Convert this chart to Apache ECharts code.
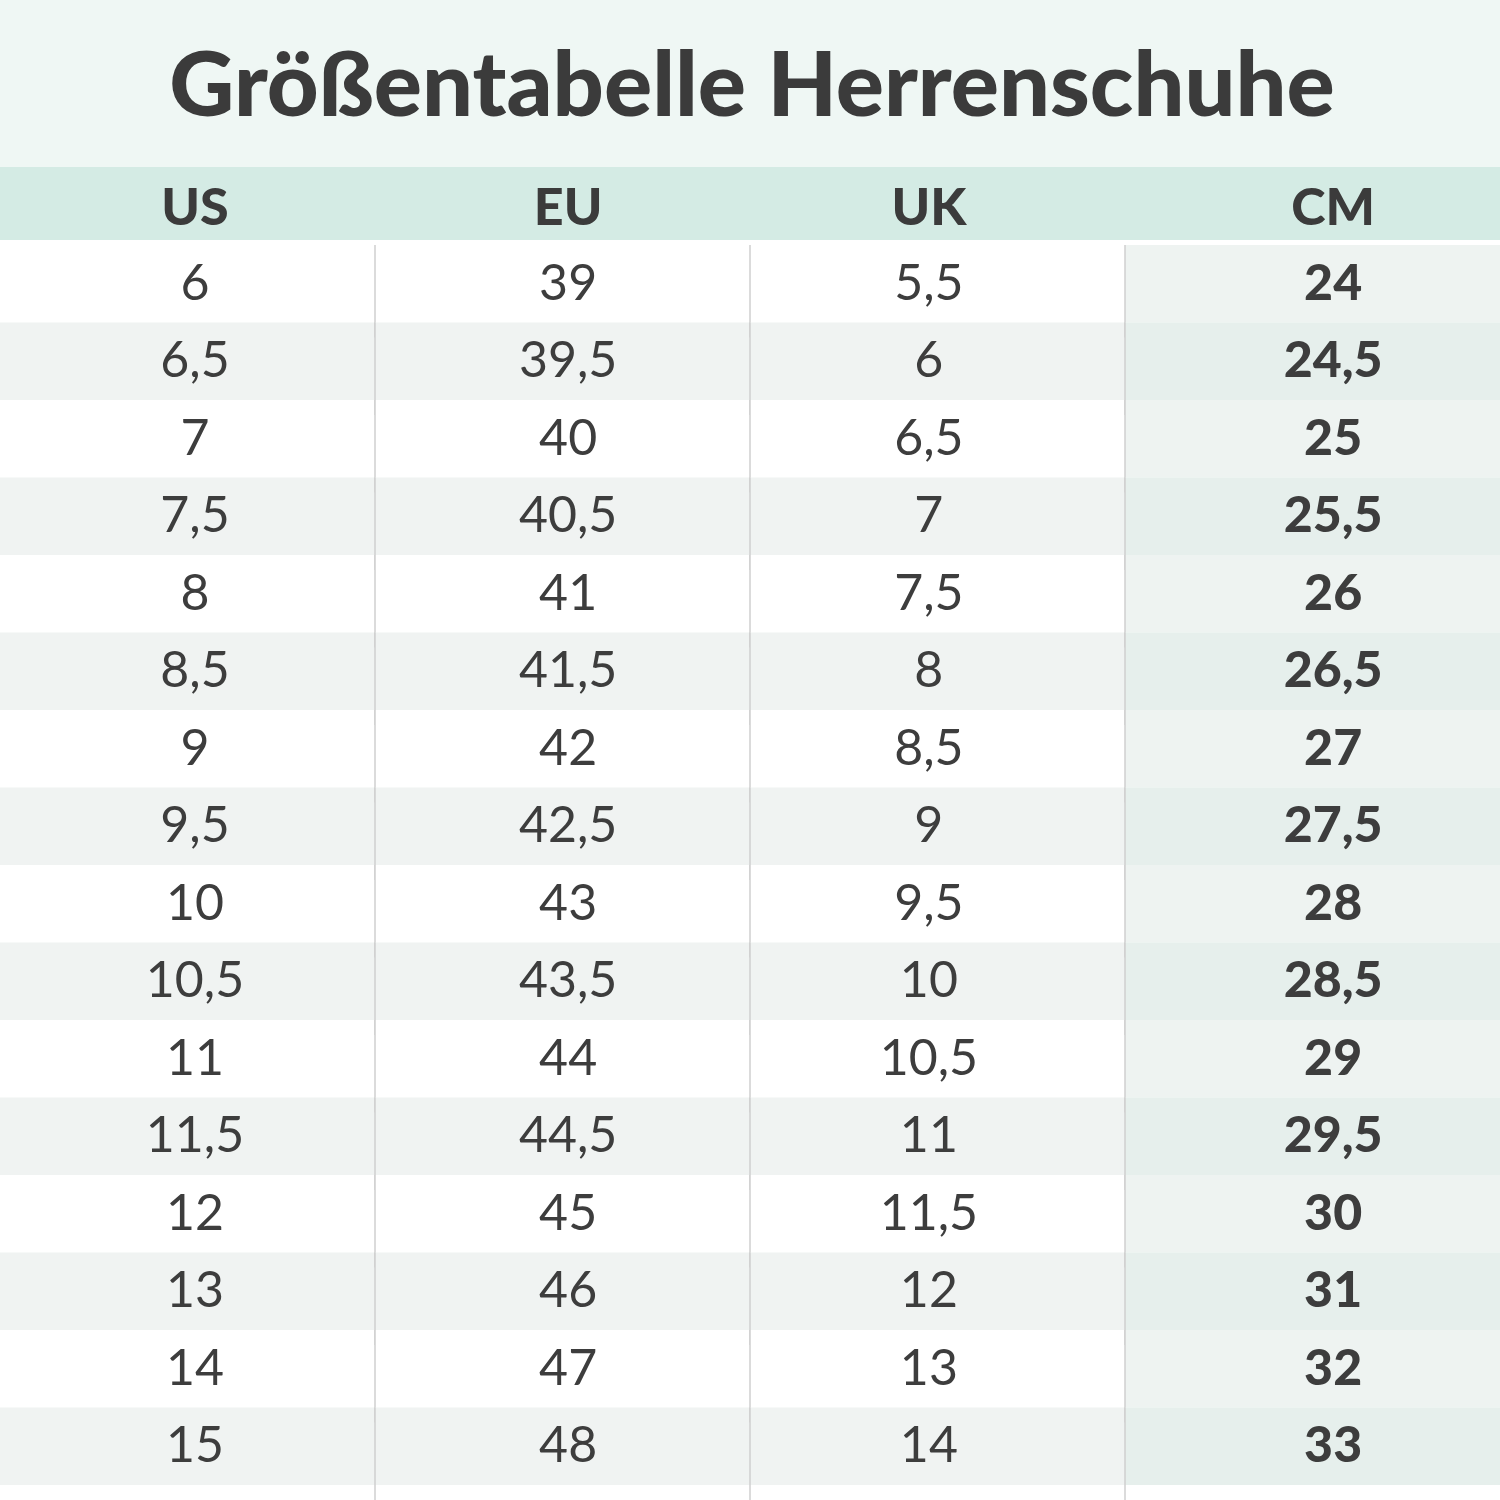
<!DOCTYPE html>
<html><head><meta charset="utf-8">
<script src="https://cdn.jsdelivr.net/npm/echarts@6/dist/echarts.min.js"></script>
<style>html,body{margin:0;padding:0;background:#fff}#c{width:1500px;height:1500px}</style>
</head><body><div id="c"></div>
<script>
const title = 'Größentabelle Herrenschuhe';
const headers = ['US','EU','UK','CM'];
const us = ['6','6,5','7','7,5','8','8,5','9','9,5','10','10,5','11','11,5','12','13','14','15'];
const eu = ['39','39,5','40','40,5','41','41,5','42','42,5','43','43,5','44','44,5','45','46','47','48'];
const uk = ['5,5','6','6,5','7','7,5','8','8,5','9','9,5','10','10,5','11','11,5','12','13','14'];
const cm = ['24','24,5','25','25,5','26','26,5','27','27,5','28','28,5','29','29,5','30','31','32','33'];
const cols = [us, eu, uk, cm];
const textX = [0.52, 1.515, 2.477, 3.555];
const data = [];
cols.forEach((c, ci) => c.forEach((v, ri) => data.push([ci, ri])));
const chart = echarts.init(document.getElementById('c'));
const font = 'Lato, "Noto Sans", sans-serif';
chart.setOption({
  animation: false,
  graphic: [
    {type:'rect', shape:{x:0,y:0,width:1500,height:167}, style:{fill:'#eff7f4'}},
    {type:'rect', shape:{x:0,y:167,width:1500,height:73}, style:{fill:'#d4ebe4'}},
    {type:'text', x:752, y:87, style:{text:title, fill:'#3b3b3b', font:'900 90px '+font, align:'center', verticalAlign:'middle'}},
    ...headers.map((h,i)=>({type:'text', x:textX[i]*375, y:208, style:{text:h, fill:'#3b3b3b', font:'900 52px '+font, align:'center', verticalAlign:'middle'}}))
  ],
  grid: {left:0, right:0, top:245, bottom:15},
  xAxis: {type:'value', min:0, max:4, show:false},
  yAxis: {type:'value', min:0, max:16, inverse:true, show:false},
  series: [{
    type:'custom',
    data: data,
    renderItem: function(params, api){
      const ci = api.value(0), ri = api.value(1);
      const p0 = api.coord([ci, ri]), p1 = api.coord([ci+1, ri+1]);
      const even = ri % 2 === 1;
      let fill = even ? '#f0f3f2' : '#ffffff';
      if (ci === 3) fill = even ? '#e6efec' : '#eef3f1';
      const tc = api.coord([textX[ci], ri + 0.5]);
      const children = [
        {type:'rect', shape:{x:p0[0], y:p0[1], width:p1[0]-p0[0], height:p1[1]-p0[1]}, style:{fill:fill}},
        {type:'text', x:tc[0], y:tc[1], style:{text:cols[ci][ri], fill:'#3d3d3d', font:(ci===3?'900 ':'')+'50px '+font, align:'center', verticalAlign:'middle'}}
      ];
      if (ci > 0) children.push({type:'line', shape:{x1:p0[0], y1:p0[1], x2:p0[0], y2:p1[1]+15}, style:{stroke:'#cfcfcf', lineWidth:1.5}});
      return {type:'group', children};
    }
  }]
});
</script></body></html>
